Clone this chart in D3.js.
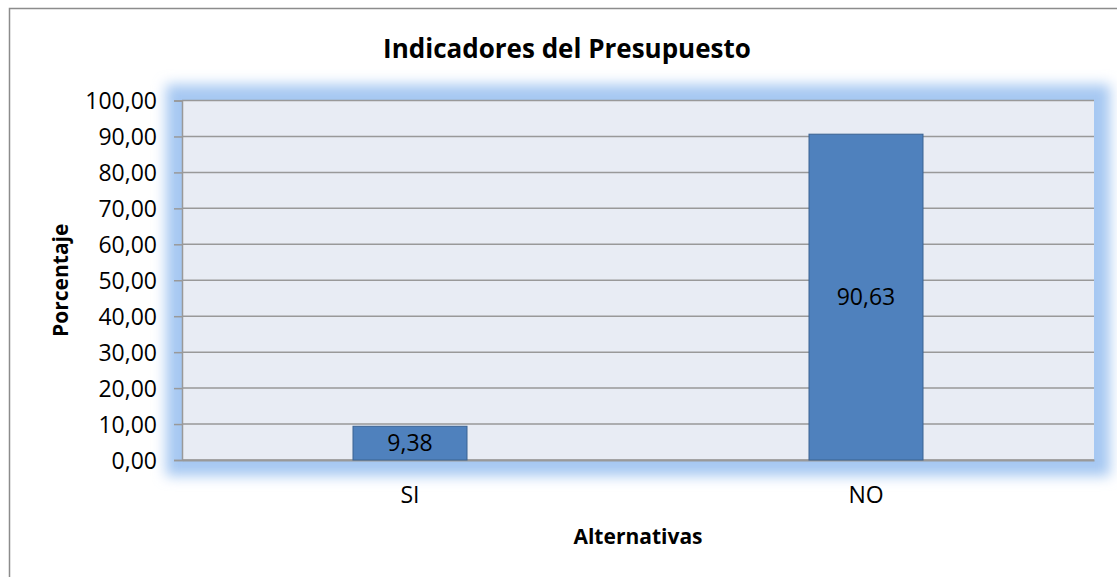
<!DOCTYPE html>
<html lang="es">
<head>
<meta charset="utf-8">
<title>Indicadores del Presupuesto</title>
<script src="https://d3js.org/d3.v7.min.js"></script>
<style>
  body { margin: 0; background: #fff; font-family: "Open Sans", sans-serif; }
  .tick text { font-size: 23px; fill: #000; font-family: "Open Sans", sans-serif; }
</style>
</head>
<body>
<div id="chart"></div>
<script>
// data
var categories = ["SI", "NO"];
var values = [9.38, 90.63];
var yTicks = [0, 10, 20, 30, 40, 50, 60, 70, 80, 90, 100];

var W = 1117, H = 577;
var margin = {top: 100.5, right: 23, bottom: 117, left: 182};
var width = W - margin.left - margin.right,
    height = H - margin.top - margin.bottom;

var fmt = function(v) { return d3.format(".2f")(v).replace(".", ","); };

var svg = d3.select("#chart").append("svg")
  .attr("width", W).attr("height", H);

// glow filter
var defs = svg.append("defs");
defs.append("filter").attr("id", "glow")
  .attr("x", "-10%").attr("y", "-20%").attr("width", "120%").attr("height", "140%")
  .append("feGaussianBlur").attr("stdDeviation", 6.5);

// outer border
svg.append("rect")
  .attr("x", 9.5).attr("y", 8.5)
  .attr("width", W + 20).attr("height", H + 20)
  .attr("fill", "#fff").attr("stroke", "#8c8c8c").attr("stroke-width", 1.5);

// title
svg.append("text")
  .attr("x", 567).attr("y", 58)
  .attr("text-anchor", "middle")
  .style("font-size", "26px").style("font-weight", "bold")
  .text("Indicadores del Presupuesto");

var g = svg.append("g")
  .attr("transform", "translate(" + margin.left + "," + margin.top + ")");

// glow behind plot area
g.append("rect")
  .attr("x", -16).attr("y", -16)
  .attr("width", width + 32).attr("height", height + 32)
  .attr("fill", "#a6c8f2")
  .attr("filter", "url(#glow)");

g.append("rect")
  .attr("x", 0).attr("y", 0)
  .attr("width", width).attr("height", height)
  .attr("fill", "#e8ecf4");

var x = d3.scaleBand().domain(categories).range([0, width]).paddingInner(0).paddingOuter(0);
var y = d3.scaleLinear().domain([0, 100]).range([height, 0]);

// gridlines
g.append("g").selectAll("line")
  .data(yTicks)
  .join("line")
  .attr("x1", 0).attr("x2", width)
  .attr("y1", function(d) { return y(d); })
  .attr("y2", function(d) { return y(d); })
  .attr("stroke", "#999").attr("stroke-width", 1.5);

// y axis
var yAxis = g.append("g")
  .call(d3.axisLeft(y).tickValues(yTicks).tickFormat(fmt).tickSize(8).tickPadding(17));
yAxis.selectAll("line").attr("stroke", "#999").attr("stroke-width", 1.5);
yAxis.select(".domain").attr("stroke", "#999").attr("stroke-width", 1.5);
yAxis.selectAll("text").attr("dy", "0.36em");

// x axis
var xAxis = g.append("g")
  .attr("transform", "translate(0," + height + ")")
  .call(d3.axisBottom(x).tickSize(0).tickPadding(27));
xAxis.select(".domain").attr("stroke", "#999").attr("stroke-width", 2);

// bars
var bw = x.bandwidth() / 4;
g.selectAll(".bar")
  .data(values)
  .join("rect")
  .attr("class", "bar")
  .attr("x", function(d, i) { return x(categories[i]) + x.bandwidth() / 2 - bw / 2; })
  .attr("y", function(d) { return y(d); })
  .attr("width", bw)
  .attr("height", function(d) { return height - y(d); })
  .attr("fill", "#4f81bd")
  .attr("stroke", "#3b6291").attr("stroke-width", 1);

// bar labels
g.selectAll(".lbl")
  .data(values)
  .join("text")
  .attr("class", "lbl")
  .attr("x", function(d, i) { return x(categories[i]) + x.bandwidth() / 2; })
  .attr("y", function(d) { return (y(d) + height) / 2; })
  .attr("dy", "0.36em")
  .attr("text-anchor", "middle")
  .style("font-size", "23px")
  .text(fmt);

// axis titles
svg.append("text")
  .attr("x", 638).attr("y", 544)
  .attr("text-anchor", "middle")
  .style("font-size", "21px").style("font-weight", "bold")
  .text("Alternativas");

svg.append("text")
  .attr("transform", "translate(68," + (margin.top + height / 2) + ") rotate(-90)")
  .attr("text-anchor", "middle")
  .style("font-size", "21px").style("font-weight", "bold")
  .text("Porcentaje");
</script>
</body>
</html>
